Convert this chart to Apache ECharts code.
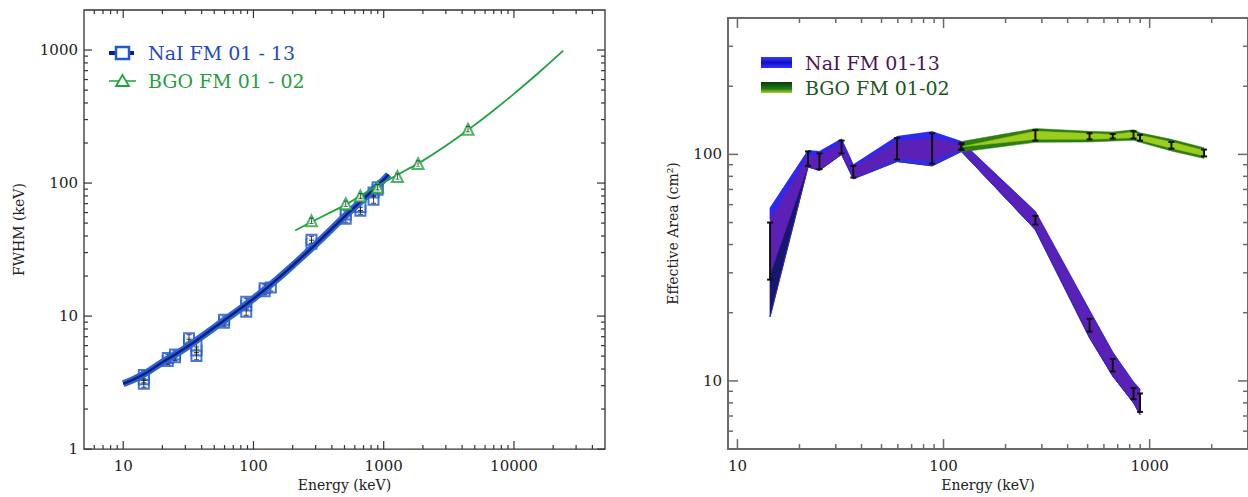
<!DOCTYPE html>
<html><head><meta charset="utf-8">
<script src="https://cdn.jsdelivr.net/npm/echarts@6/dist/echarts.min.js"></script>
<style>html,body{margin:0;padding:0;background:#fff}#c{width:1248px;height:497px}</style>
</head><body><div id="c"></div>
<script>
// ---------- Left panel: FWHM vs energy ----------
const naiPtE = [14.4,14.4,14.4,22,22,25,25,32,32,36.5,36.5,36.5,59.5,59.5,88,88,88,122,122,136,279,279,511,511,662,662,835,835,898,898];
const naiPtV = [3.1,3.35,3.6,4.6,4.85,4.9,5.15,6.3,6.8,5.0,5.5,6.0,8.9,9.4,10.8,12.0,12.8,15.4,16.2,16.4,35,37.5,54,58,62,66,75,85,89,93];
const naiFitE = [10,14,20,30,50,70,100,150,200,300,500,700,1000,1090];
const naiFitV = [3.1,3.6,4.5,5.75,8.2,10.4,13.5,18.7,24,34.6,56,76,106,116];
const bgoPtE = [279,511,662,898,1275,1836,4438];
const bgoPtV = [52,70,80,93,112,140,254];
const bgoFitE = [209,279,400,511,700,1000,1500,1836,3000,4438,7000,10000,15000,23900];
const bgoFitV = [44,51,61,69,83,101,126,140,191,251,353,468,658,991];
const leftXLabels = [10,100,1000,10000];
const leftYLabels = [1,10,100,1000];

// ---------- Right panel: effective area ----------
const naiE      = [14.4, 22, 25, 32, 36.5, 59.5, 88, 122, 279, 511, 662, 835, 898];
const naiHi     = [58, 104, 103, 117, 90, 120, 126, 114, 56, 20.5, 13.4, 9.9, 9.2];
const naiMid    = [52, 99, 99, 113, 88, 115, 119, 112, 55.5, 20.3, 13.3, 9.8, 9.1];
const naiNavy   = [29, 88, 85, 100, 78, 93, 89, 103, 46.5, 15.5, 10.5, 8.0, 7.1];
const naiBlueLo = [19.2, 88, 85, 100, 78, 95.5, 93, 104.5, 46.5, 15.5, 10.5, 8.0, 7.1];
const naiLo     = [19.2, 88, 85, 100, 78, 93, 89, 103, 46.5, 15.5, 10.5, 8.0, 7.1];
const naiBarLo  = [28, 89, 86, 101, 79, 95, 91, 105, 49, 16.5, 11, 8.3, 7.3];
const naiBarHi  = [50, 103, 101, 115, 89, 118, 124, 112, 53.5, 18.8, 12.5, 9.3, 8.8];
const bgoE      = [122, 279, 511, 662, 835, 898, 1275, 1836];
const bgoHi     = [114, 130, 126.5, 125.5, 128.5, 124.5, 116.5, 107];
const bgoInHi   = [108, 126.5, 123.5, 122.5, 125.5, 121.5, 113.5, 104];
const bgoInLo   = [108, 116.5, 116.5, 117.5, 118.5, 115.5, 106.5, 98.5];
const bgoLo     = [102.5, 113, 113.5, 114.5, 115.5, 113, 103.5, 96];
const bgoBarLo  = [105, 115, 116.5, 117.5, 117.5, 115, 106, 98];
const bgoBarHi  = [111, 128, 124, 123, 126.5, 122, 113.5, 105];
const rightXLabels = [10,100,1000];
const rightYLabels = [10,100];

const FONT = 'DejaVu Serif';
const zip = (a,b) => a.map((v,i)=>[v,b[i]]);
function minorTicks(lo, hi){ const r=[]; for(let d=lo; d<hi; d*=10){ for(let k=2;k<=9;k++){ r.push(d*k);} } return r; }
const inRange = (arr, a, b) => arr.filter(v => v > a*1.0001 && v < b*0.9999);

function tickSeries(gi, xMaj, xMin, yMaj, yMin, xRef, yRef, majLen, minLen, color, width){
  const data=[];
  xMaj.forEach(v=>data.push([v,yRef,0,1])); xMin.forEach(v=>data.push([v,yRef,0,0]));
  yMaj.forEach(v=>data.push([xRef,v,1,1])); yMin.forEach(v=>data.push([xRef,v,1,0]));
  return {type:'custom', xAxisIndex:gi, yAxisIndex:gi, silent:true, z:20, dimensions:['x','y','k','m'],
    encode:{x:0,y:1}, data, clip:false,
    renderItem(params, api){
      const cs = params.coordSys; const p = api.coord([api.value(0), api.value(1)]);
      const len = api.value(3) ? majLen : minLen; let s;
      if (api.value(2)===0){ const x=p[0]; s=[[x,cs.y+cs.height,x,cs.y+cs.height-len],[x,cs.y,x,cs.y+len]]; }
      else { const y=p[1]; s=[[cs.x,y,cs.x+len,y],[cs.x+cs.width,y,cs.x+cs.width-len,y]]; }
      return {type:'group', children:s.map(q=>({type:'line', shape:{x1:q[0],y1:q[1],x2:q[2],y2:q[3]}, style:{stroke:color,lineWidth:width}}))};
    }};
}
function bandSeries(gi, E, hi, lo, fill, z){
  return {type:'custom', xAxisIndex:gi, yAxisIndex:gi, silent:true, z, encode:{x:0,y:1},
    data: E.map((e,i)=>[e, hi[i], lo[i]]),
    renderItem(params, api){
      if (params.dataIndex !== 0) return null;
      const up = E.map((e,i)=>api.coord([e, hi[i]]));
      const dn = E.map((e,i)=>api.coord([e, lo[i]])).reverse();
      return {type:'polygon', shape:{points: up.concat(dn)}, style:{fill, stroke:fill, lineWidth:0.5}};
    }};
}
function errSeries(gi, E, lo, hi, z){
  return {type:'custom', xAxisIndex:gi, yAxisIndex:gi, silent:true, z, encode:{x:0,y:[1,2]},
    data: E.map((e,i)=>[e, lo[i], hi[i]]),
    renderItem(params, api){
      const a = api.coord([api.value(0), api.value(1)]); const b = api.coord([api.value(0), api.value(2)]);
      const w=3, st={stroke:'#111', lineWidth:2};
      return {type:'group', children:[
        {type:'line', shape:{x1:a[0],y1:a[1],x2:b[0],y2:b[1]}, style:st},
        {type:'line', shape:{x1:a[0]-w,y1:a[1],x2:a[0]+w,y2:a[1]}, style:st},
        {type:'line', shape:{x1:b[0]-w,y1:b[1],x2:b[0]+w,y2:b[1]}, style:st}]};
    }};
}
const lab = (set) => (v => { const r=Math.round(v); return set.includes(r) ? String(r) : ''; });
const ebar = 'path://M0,0H6V1.2H0ZM2.4,0H3.6V10H2.4ZM0,8.8H6V10H0Z';

const chart = echarts.init(document.getElementById('c'), null, {renderer:'svg'});
chart.setOption({
  animation:false,
  backgroundColor:'#fff',
  grid:[
    {left:84, top:10, width:521, height:442, show:true, borderColor:'#333', borderWidth:1.3},
    {left:728, top:18, width:523, height:436, show:true, borderColor:'#6a6a6a', borderWidth:2}
  ],
  xAxis:[
    {type:'log', gridIndex:0, min:5, max:50000, axisLine:{show:false}, axisTick:{show:false}, splitLine:{show:false}, minorTick:{show:false},
     axisLabel:{formatter:lab(leftXLabels), fontFamily:FONT, fontSize:15, color:'#222', margin:9, showMinLabel:false, showMaxLabel:false},
     name:'Energy (keV)', nameLocation:'middle', nameGap:28, nameTextStyle:{fontFamily:FONT, fontSize:14, color:'#222'}},
    {type:'log', gridIndex:1, min:9, max:3000, axisLine:{show:false}, axisTick:{show:false}, splitLine:{show:false},
     axisLabel:{formatter:lab(rightXLabels), fontFamily:FONT, fontSize:15, color:'#222', margin:9, showMinLabel:false, showMaxLabel:false},
     name:'Energy (keV)', nameLocation:'middle', nameGap:27, nameTextStyle:{fontFamily:FONT, fontSize:14, color:'#222'}}
  ],
  yAxis:[
    {type:'log', gridIndex:0, min:1, max:2000, axisLine:{show:false}, axisTick:{show:false}, splitLine:{show:false},
     axisLabel:{formatter:lab(leftYLabels), fontFamily:FONT, fontSize:15, color:'#222', margin:6, showMinLabel:true, showMaxLabel:false},
     name:'FWHM (keV)', nameLocation:'middle', nameGap:58, nameTextStyle:{fontFamily:FONT, fontSize:14, color:'#222'}},
    {type:'log', gridIndex:1, min:5, max:400, axisLine:{show:false}, axisTick:{show:false}, splitLine:{show:false},
     axisLabel:{formatter:lab(rightYLabels), fontFamily:FONT, fontSize:15, color:'#222', margin:6, showMinLabel:false, showMaxLabel:false},
     name:'Effective Area (cm²)', nameLocation:'middle', nameGap:48, nameTextStyle:{fontFamily:FONT, fontSize:14, color:'#222'}}
  ],
  series:[
    // left
    {type:'scatter', xAxisIndex:0, yAxisIndex:0, data:zip(naiPtE,naiPtV), symbol:'emptyRect', symbolSize:10,
     itemStyle:{color:'#1a55d0', borderColor:'#1a55d0', borderWidth:3.5}, z:3, silent:true},
    {type:'scatter', xAxisIndex:0, yAxisIndex:0, data:zip(naiPtE,naiPtV), symbol:ebar, symbolSize:[5,8],
     itemStyle:{color:'#111'}, z:4, silent:true},
    {type:'line', xAxisIndex:0, yAxisIndex:0, data:zip(naiFitE,naiFitV), smooth:true, showSymbol:false,
     lineStyle:{color:'#2b63d9', width:7}, z:5, silent:true},
    {type:'line', xAxisIndex:0, yAxisIndex:0, data:zip(naiFitE,naiFitV), smooth:true, showSymbol:false,
     lineStyle:{color:'#0c1f7c', width:2.5}, z:6, silent:true},
    {type:'line', xAxisIndex:0, yAxisIndex:0, data:zip(bgoFitE,bgoFitV), smooth:true, showSymbol:false,
     lineStyle:{color:'#22a23e', width:1.8}, z:7, silent:true},
    {type:'scatter', xAxisIndex:0, yAxisIndex:0, data:zip(bgoPtE,bgoPtV), symbol:'emptyTriangle', symbolSize:11,
     itemStyle:{color:'#22a23e', borderColor:'#22a23e', borderWidth:2}, z:8, silent:true},
    {type:'scatter', xAxisIndex:0, yAxisIndex:0, data:zip(bgoPtE,bgoPtV), symbol:ebar, symbolSize:[4,6],
     itemStyle:{color:'#111'}, z:9, silent:true},
    tickSeries(0, leftXLabels, inRange(minorTicks(1,100000),5,50000), leftYLabels, inRange(minorTicks(1,10000),1,2000), 5, 1, 8, 4, '#333', 1.2),
    // right
    bandSeries(1, naiE, naiHi, naiLo, '#5b21b6', 2),
    bandSeries(1, naiE, naiHi, naiMid, '#2a2af2', 3),
    bandSeries(1, naiE, naiNavy, naiLo, '#17176e', 3),
    bandSeries(1, naiE, naiBlueLo, naiLo, '#2f2fe4', 3),
    bandSeries(1, bgoE, bgoHi, bgoLo, '#2e7d12', 4),
    bandSeries(1, bgoE, bgoInHi, bgoInLo, '#9ccc1c', 5),
    errSeries(1, naiE, naiBarLo, naiBarHi, 8),
    errSeries(1, bgoE, bgoBarLo, bgoBarHi, 8),
    tickSeries(1, rightXLabels, inRange(minorTicks(1,10000),9,3000), rightYLabels, inRange(minorTicks(1,1000),5,400), 9, 5, 10, 5, '#6a6a6a', 1.5)
  ],
  graphic:[
    {type:'line', shape:{x1:109,y1:53,x2:134,y2:53}, style:{stroke:'#0c1f7c', lineWidth:4}},
    {type:'rect', shape:{x:116,y:47,width:13,height:12}, style:{fill:'#fff', stroke:'#1f5ad6', lineWidth:2.5}},
    {type:'text', x:148, y:53, style:{text:'NaI FM 01 - 13', font:'19px "DejaVu Serif"', fill:'#1f49c4', verticalAlign:'middle'}},
    {type:'line', shape:{x1:109,y1:81,x2:136,y2:81}, style:{stroke:'#22a23e', lineWidth:1.5}},
    {type:'polygon', shape:{points:[[122.5,75],[116,86],[129,86]]}, style:{fill:'#fff', stroke:'#22a23e', lineWidth:1.8}},
    {type:'text', x:148, y:81, style:{text:'BGO FM 01 - 02', font:'19px "DejaVu Serif"', fill:'#1f9f3e', verticalAlign:'middle'}},
    {type:'rect', shape:{x:761,y:57,width:31,height:11},
     style:{fill:new echarts.graphic.LinearGradient(0,0,0,1,[{offset:0,color:'#3a3aff'},{offset:0.5,color:'#1010c0'},{offset:1,color:'#3030ff'}])}},
    {type:'text', x:805, y:63, style:{text:'NaI FM 01-13', font:'19px "DejaVu Serif"', fill:'#4e1258', verticalAlign:'middle'}},
    {type:'rect', shape:{x:761,y:82,width:31,height:11},
     style:{fill:new echarts.graphic.LinearGradient(0,0,0,1,[{offset:0,color:'#0a3a0a'},{offset:0.6,color:'#1c7a12'},{offset:1,color:'#a8d030'}])}},
    {type:'text', x:805, y:88, style:{text:'BGO FM 01-02', font:'19px "DejaVu Serif"', fill:'#1c561c', verticalAlign:'middle'}}
  ]
});
</script>
</body></html>
